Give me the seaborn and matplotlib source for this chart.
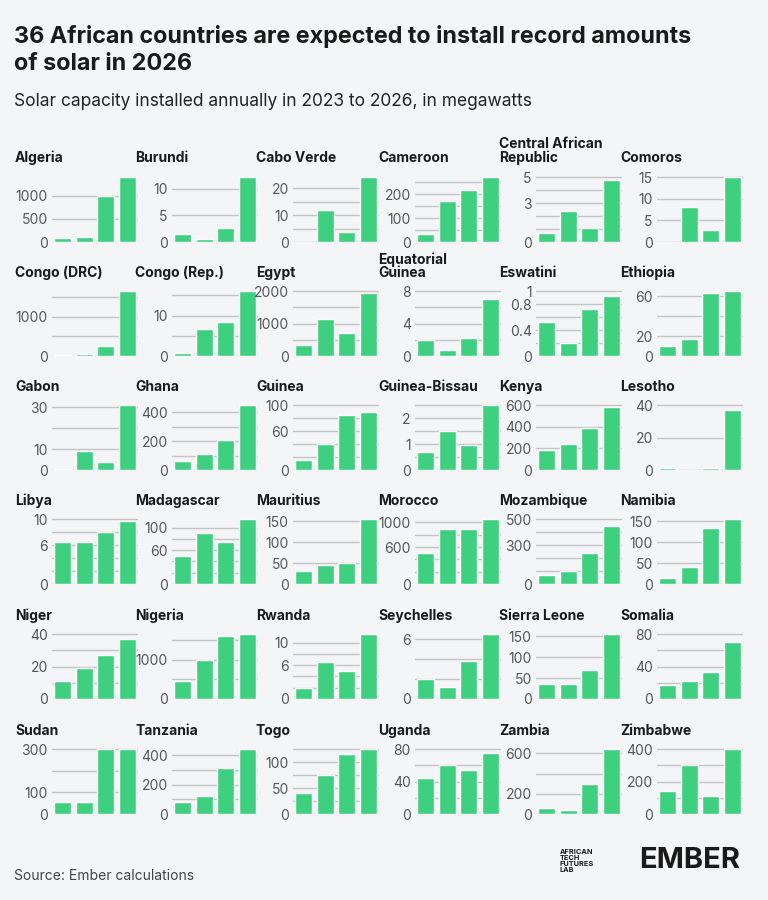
import matplotlib
matplotlib.use("Agg")
import matplotlib.pyplot as plt
import seaborn as sns
import pandas as pd
from matplotlib.ticker import FixedLocator, MultipleLocator

sns.set_theme(style="white")
plt.rcParams['font.family'] = ['Inter', 'DejaVu Sans']

years = ["2023", "2024", "2025", "2026"]
countries = ["Algeria", "Burundi", "Cabo Verde", "Cameroon", "Central African\nRepublic", "Comoros",
             "Congo (DRC)", "Congo (Rep.)", "Egypt", "Equatorial\nGuinea", "Eswatini", "Ethiopia",
             "Gabon", "Ghana", "Guinea", "Guinea-Bissau", "Kenya", "Lesotho",
             "Libya", "Madagascar", "Mauritius", "Morocco", "Mozambique", "Namibia",
             "Niger", "Nigeria", "Rwanda", "Seychelles", "Sierra Leone", "Somalia",
             "Sudan", "Tanzania", "Togo", "Uganda", "Zambia", "Zimbabwe"]
values = [
    [80, 100, 1000, 1400], [1.5, 0.6, 2.7, 12.2], [0, 12, 3.8, 24], [35, 170, 215, 270], [0.7, 2.4, 1.1, 4.8], [0, 8.2, 2.8, 15],
    [30, 60, 250, 1650], [0.8, 6.8, 8.3, 16], [350, 1150, 700, 1950], [2, 0.8, 2.2, 7], [0.52, 0.2, 0.72, 0.92], [10, 17, 63, 65],
    [0.5, 9, 4, 31], [60, 110, 210, 450], [15, 40, 85, 90], [0.7, 1.5, 0.95, 2.5], [190, 240, 390, 580], [1, 0.3, 1, 37],
    [6.5, 6.5, 8, 9.8], [50, 90, 75, 115], [30, 45, 50, 155], [500, 900, 900, 1050], [70, 100, 240, 450], [15, 40, 135, 155],
    [11, 19, 27, 37], [450, 1000, 1600, 1650], [2, 6.5, 5, 11.5], [2, 1.2, 3.8, 6.5], [35, 35, 70, 155], [17, 22, 33, 70],
    [55, 55, 300, 300], [80, 120, 310, 440], [40, 75, 115, 125], [45, 60, 55, 75], [60, 40, 300, 640], [140, 300, 110, 400],
]
tick_labels = [
    [0, 500, 1000], [0, 5, 10], [0, 10, 20], [0, 100, 200], [0, 3, 5], [0, 5, 10, 15],
    [0, 1000], [0, 10], [0, 1000, 2000], [0, 4, 8], [0, 0.4, 0.8, 1], [0, 20, 60],
    [0, 10, 30], [0, 200, 400], [0, 60, 100], [0, 1, 2], [0, 200, 400, 600], [0, 20, 40],
    [0, 6, 10], [0, 60, 100], [0, 50, 100, 150], [0, 600, 1000], [0, 300, 500], [0, 50, 100, 150],
    [0, 20, 40], [0, 1000], [0, 6, 10], [0, 6], [0, 50, 100, 150], [0, 40, 80],
    [0, 100, 300], [0, 200, 400], [0, 50, 100], [0, 40, 80], [0, 200, 600], [0, 200, 400],
]
grid_steps = [500, 5, 5, 50, 1, 5, 500, 5, 500, 2, 0.2, 20,
              10, 100, 20, 0.5, 200, 20, 2, 20, 50, 200, 100, 50,
              10, 500, 2, 2, 50, 20, 100, 100, 25, 20, 200, 100]

GREEN = "#3DD17F"
BG = "#F4F5F7"
W, H = 768, 900
fig = plt.figure(figsize=(W / 100, H / 100), dpi=100, facecolor=BG)

fig.text(14 / W, 1 - 50 / H, "36 African countries are expected to install record amounts\nof solar in 2026",
         fontsize=16.8, fontweight="bold", color="#1a1a1a", va="center", linespacing=1.3)
fig.text(14 / W, 1 - 102 / H, "Solar capacity installed annually in 2023 to 2026, in megawatts",
         fontsize=12.5, color="#222222", va="center")
fig.text(14 / W, 1 - 876 / H, "Source: Ember calculations", fontsize=10, color="#444444", va="center")
fig.text(740 / W, 1 - 861 / H, "EMBER", fontsize=21, fontweight="bold", color="#1a1a1a", ha="right", va="center")
fig.text(560 / W, 1 - 861 / H, "AFRICAN\nTECH\nFUTURES\nLAB", fontsize=5.3, fontweight="bold", color="#1a1a1a",
         va="center", linespacing=1.0)

col_x = [15, 135, 256, 378, 499, 620]
row_title_y = [158, 273, 387, 501, 616, 731]
row_base_y = [242, 356, 470, 584, 699, 814]

for i, (name, vals, ticks, step) in enumerate(zip(countries, values, tick_labels, grid_steps)):
    r, c = divmod(i, 6)
    x0 = col_x[c]
    ax_left = x0 + 37
    ax_w = 86
    ax_h = 66
    ax_bottom = row_base_y[r]
    ax = fig.add_axes([ax_left / W, 1 - ax_bottom / H, ax_w / W, ax_h / H])
    ax.set_facecolor("none")
    df = pd.DataFrame({"year": years, "mw": vals})
    sns.barplot(data=df, x="year", y="mw", color=GREEN, saturation=1, width=0.8, ax=ax, zorder=3)
    top = max(max(vals), max(ticks))
    ax.set_ylim(0, top * 1.02)
    ax.set_xlim(-0.5, 3.5)
    ax.yaxis.set_major_locator(FixedLocator(ticks))
    ax.yaxis.set_minor_locator(MultipleLocator(step))
    ax.set_yticklabels([f"{t:g}" for t in ticks], fontsize=10, color="#555555")
    ax.grid(True, axis="y", which="both", color="#c4c4c4", linewidth=1, zorder=0)
    ax.tick_params(axis="y", which="both", length=0, pad=3)
    ax.set_xticks([])
    ax.set_xlabel("")
    ax.set_ylabel("")
    for s in ax.spines.values():
        s.set_visible(False)
    ty = row_title_y[r] - (7 if "\n" in name else 0)
    fig.text(x0 / W, 1 - ty / H, name, fontsize=10, fontweight="bold", color="#1a1a1a",
             va="center", linespacing=0.95)

fig.savefig("out.png", dpi=100, facecolor=BG)
